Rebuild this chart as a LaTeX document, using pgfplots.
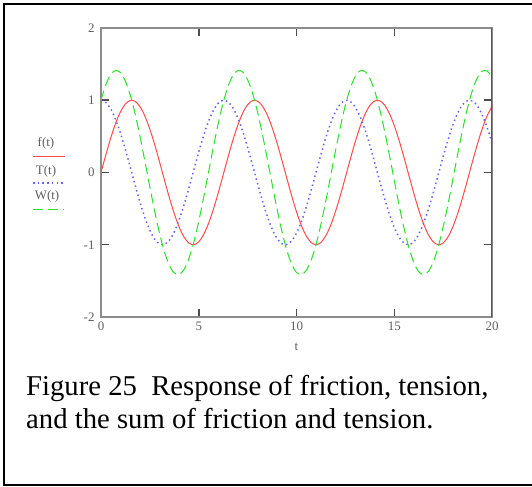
\documentclass[border=0pt]{standalone}
\usepackage{fontspec}
\setmainfont{Liberation Serif}
\usepackage{pgfplots}
\usepackage{pgfplotstable}
\pgfplotsset{compat=1.18}
\definecolor{cred}{RGB}{255,75,75}
\definecolor{cblue}{RGB}{100,100,255}
\definecolor{cgreen}{RGB}{40,225,40}
\definecolor{axgray}{RGB}{140,140,140}
\definecolor{labgray}{RGB}{95,95,95}
\pgfplotstableread{
t f T W
0 0 1 1
0.25 0.2474 0.9689 1.2163
0.5 0.4794 0.8776 1.3570
0.75 0.6816 0.7317 1.4133
1.0 0.8415 0.5403 1.3818
1.25 0.9490 0.3153 1.2643
1.5 0.9975 0.0707 1.0682
1.75 0.9840 -0.1783 0.8057
2.0 0.9093 -0.4161 0.4932
2.25 0.7781 -0.6282 0.1499
2.5 0.5985 -0.8011 -0.2026
2.75 0.3817 -0.9243 -0.5426
3.0 0.1411 -0.9900 -0.8489
3.25 -0.1082 -0.9941 -1.1023
3.5 -0.3508 -0.9365 -1.2873
3.75 -0.5716 -0.8206 -1.3922
4.0 -0.7568 -0.6536 -1.4104
4.25 -0.8950 -0.4461 -1.3411
4.5 -0.9775 -0.2108 -1.1883
4.75 -0.9993 0.0376 -0.9617
5.0 -0.9589 0.2837 -0.6752
5.25 -0.8589 0.5121 -0.3468
5.5 -0.7055 0.7087 0.0032
5.75 -0.5083 0.8612 0.3529
6.0 -0.2794 0.9602 0.6808
6.25 -0.0331 0.9995 0.9664
6.5 0.2151 0.9766 1.1917
6.75 0.4500 0.8930 1.3430
7.0 0.6570 0.7539 1.4109
7.25 0.8231 0.5680 1.3911
7.5 0.9380 0.3466 1.2846
7.75 0.9946 0.1037 1.0983
8.0 0.9894 -0.1455 0.8439
8.25 0.9226 -0.3858 0.5368
8.5 0.7985 -0.6020 0.1965
8.75 0.6248 -0.7809 -0.1561
9.0 0.4121 -0.9111 -0.4990
9.25 0.1739 -0.9848 -0.8109
9.5 -0.0752 -0.9972 -1.0724
9.75 -0.3196 -0.9476 -1.2672
10.0 -0.5440 -0.8391 -1.3831
10.25 -0.7347 -0.6784 -1.4131
10.5 -0.8797 -0.4755 -1.3552
10.75 -0.9699 -0.2431 -1.2130
11.0 -1.0000 0.0044 -0.9956
11.25 -0.9678 0.2517 -0.7161
11.5 -0.8755 0.4833 -0.3922
11.75 -0.7287 0.6849 -0.0438
12.0 -0.5366 0.8439 0.3073
12.25 -0.3111 0.9505 0.6394
12.5 -0.0663 0.9978 0.9315
12.75 0.1827 0.9832 1.1659
13.0 0.4202 0.9074 1.3276
13.25 0.6316 0.7752 1.4068
13.5 0.8038 0.5949 1.3987
13.75 0.9260 0.3775 1.3035
14.0 0.9906 0.1367 1.1273
14.25 0.9936 -0.1126 0.8810
14.5 0.9349 -0.3549 0.5800
14.75 0.8180 -0.5752 0.2428
15.0 0.6503 -0.7597 -0.1094
15.25 0.4421 -0.8970 -0.4549
15.5 0.2065 -0.9785 -0.7720
15.75 -0.0420 -0.9992 -1.0412
16.0 -0.2879 -0.9577 -1.2456
16.25 -0.5159 -0.8567 -1.3726
16.5 -0.7118 -0.7024 -1.4142
16.75 -0.8635 -0.5045 -1.3680
17.0 -0.9614 -0.2752 -1.2366
17.25 -0.9996 -0.0287 -1.0283
17.5 -0.9756 0.2194 -0.7562
17.75 -0.8910 0.4540 -0.4370
18.0 -0.7510 0.6603 -0.0907
18.25 -0.5643 0.8256 0.2613
18.5 -0.3425 0.9395 0.5970
18.75 -0.0995 0.9950 0.8955
19.0 0.1499 0.9887 1.1386
19.25 0.3898 0.9209 1.3107
19.5 0.6055 0.7958 1.4013
19.75 0.7836 0.6213 1.4049
20.0 0.9129 0.4081 1.3210
}\datatable
\begin{document}
\begin{tikzpicture}[x=1bp,y=1bp]
\useasboundingbox (0,0) rectangle (532,487);
\draw[line width=2bp] (533,482.5) -- (3.5,482.5) -- (3.5,2) -- (533,2);
\begin{axis}[at={(101bp,170bp)}, anchor=south west, scale only axis,
  width=391bp, height=289bp,
  xmin=0, xmax=20, ymin=-2, ymax=2,
  xtick={0,5,10,15,20}, ytick={-2,-1,0,1,2},
  axis line style={axgray, line width=1.5bp},
  tick style={black!70, line width=1.5bp},
  major tick length=8bp, tick align=inside,
  ticklabel style={font=\fontsize{13}{14}\selectfont, text=labgray},
  xticklabel style={yshift=-1.5bp},
  /pgf/number format/assume math mode=true,
  xlabel={t}, xlabel style={font=\fontsize{13}{14}\selectfont, text=labgray, yshift=-6bp},
  yticklabel style={xshift=-3bp},
]
\addplot[cred, line width=1bp, smooth] table[x=t, y=f] {\datatable};
\addplot[cblue, line width=1.5bp, dash pattern=on 1.5bp off 3.2bp, smooth] table[x=t, y=T] {\datatable};
\addplot[cgreen, line width=1bp, dash pattern=on 10bp off 5bp, smooth] table[x=t, y=W] {\datatable};
\draw[black!65, line width=2bp] (rel axis cs:1,0) -- (rel axis cs:1,1);
\end{axis}
% legend
\draw[cred, line width=1bp] (33,330) -- (65,330);
\node[font=\fontsize{13}{14}\selectfont, text=labgray] at (46,344) {f(t)};
\draw[cblue, line width=1.5bp, dash pattern=on 1.5bp off 3.2bp] (33,304) -- (63,304);
\node[font=\fontsize{13}{14}\selectfont, text=labgray] at (46,316) {T(t)};
\draw[cgreen, line width=1bp, dash pattern=on 10bp off 5bp] (33,277) -- (64,277);
\node[font=\fontsize{13}{14}\selectfont, text=labgray] at (47,291) {W(t)};
% caption
\node[anchor=base west, inner sep=0pt, font=\fontsize{28.8}{33}\selectfont] at (26,91) {Figure 25\ \ Response of friction, tension,};
\node[anchor=base west, inner sep=0pt, font=\fontsize{28.8}{33}\selectfont] at (26,58) {and the sum of friction and tension.};
\end{tikzpicture}
\end{document}
